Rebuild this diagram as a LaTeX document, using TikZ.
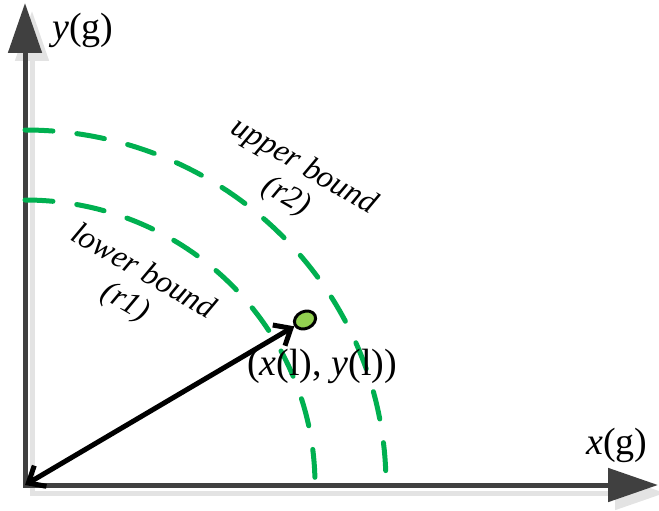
\documentclass[tikz,border=0pt]{standalone}
\usepackage{fontspec}
\setmainfont{Liberation Serif}
\usetikzlibrary{positioning, arrows.meta, shapes.geometric}
\definecolor{boundgreen}{RGB}{0,176,80}
\definecolor{pointgreen}{RGB}{146,208,80}
\definecolor{axisgray}{RGB}{64,64,64}
\definecolor{shadowgray}{RGB}{227,227,227}

\begin{document}
\begin{tikzpicture}[
            x=0.5pt, y=0.5pt,
            axis/.style={line width=2.5pt, draw=axisgray, {Triangle[length=25pt, width=16.5pt]}-{Triangle[length=25pt, width=16.5pt]}},
            axisshadow/.style={axis, draw=shadowgray},
            bound/.style={line width=2.5pt, draw=boundgreen, dash pattern=on 14pt off 12pt, line cap=round},
            boundlabel/.style={font=\fontsize{16}{17.5}\selectfont\itshape, align=center, rotate=-30},
            axislabel/.style={font=\fontsize{19}{22}\selectfont},
            sample/.style={draw, ellipse, line width=1.5pt, fill=pointgreen, minimum width=11pt, minimum height=8.5pt, inner sep=0pt, rotate=25},
            vector/.style={line width=2.5pt, line cap=round, {Straight Barb[length=7pt, width=12pt]}-{Straight Barb[length=7pt, width=12pt]}},
        ]
        \useasboundingbox (0,0) rectangle (659,510);

        % Origin and the ends of the axes
        \coordinate (O) at (25,25);
        \coordinate (xtip) at (658,25);
        \coordinate (ytip) at (25,507);

        % Draw the axes with their shadow
        \draw[axisshadow] ([shift={(7,-8)}]xtip) -- ([shift={(7,-8)}]O) -- ([shift={(7,-8)}]ytip);
        \draw[axis] (xtip) -- (O) -- (ytip);

        % Draw the lower and upper bound arcs
        \foreach \rx / \ry in {290/285, 361/355}
        \draw[bound] (O) ++(0,\ry) arc[start angle=90, end angle=0, x radius=\rx, y radius=\ry];

        % Draw the point and the vector to it
        \node[sample] (l) at (305,190) {};
        \draw[vector] (O) -- (l);

        % Labels
        \node[axislabel] (ylab) at (83,480) {\textit{y}(g)};
        \node[axislabel] (xlab) at (617,65) {\textit{x}(g)};
        \node[axislabel] (plab) at (322,144) {(\textit{x}(l), \textit{y}(l))};
        \node[boundlabel] (upper) at (295,328) {upper bound\\(r2)};
        \node[boundlabel] (lower) at (134,222) {lower bound\\(r1)};
    \end{tikzpicture}
\end{document}
